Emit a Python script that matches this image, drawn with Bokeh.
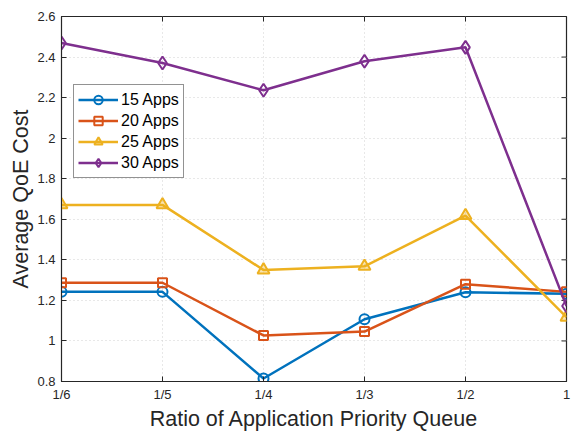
from math import pi
from bokeh.plotting import figure
from bokeh.models import Range1d, FixedTicker, Legend, LegendItem
from bokeh.embed import file_html
from bokeh.resources import INLINE

# ---- data ----
x_labels = ["1/6", "1/5", "1/4", "1/3", "1/2", "1"]
x_pos = [0, 1, 2, 3, 4, 5]
apps15 = [1.242, 1.242, 0.815, 1.107, 1.240, 1.233]
apps20 = [1.287, 1.287, 1.027, 1.046, 1.280, 1.242]
apps25 = [1.671, 1.671, 1.350, 1.368, 1.618, 1.117]
apps30 = [2.469, 2.371, 2.236, 2.379, 2.448, 1.172]
series_names = ["15 Apps", "20 Apps", "25 Apps", "30 Apps"]
y_ticks = [0.8, 1.0, 1.2, 1.4, 1.6, 1.8, 2.0, 2.2, 2.4, 2.6]
y_tick_labels = ["0.8", "1", "1.2", "1.4", "1.6", "1.8", "2", "2.2", "2.4", "2.6"]
y_min, y_max = 0.8, 2.6
x_min, x_max = 0, 5

colors = ["#0072BD", "#D95319", "#EDB120", "#7E2F8E"]
FONT = "Liberation Sans"
AX = "#262626"

p = figure(width=571, height=433, output_backend="svg", toolbar_location=None,
           x_range=Range1d(x_min, x_max), y_range=Range1d(y_min, y_max),
           min_border_left=61, min_border_right=5, min_border_top=16, min_border_bottom=0)
p.background_fill_color = "white"
p.border_fill_color = "white"
p.outline_line_color = AX
p.outline_line_width = 1.2

# axes
p.xaxis.ticker = FixedTicker(ticks=x_pos)
p.xaxis.major_label_overrides = {i: s for i, s in zip(x_pos, x_labels)}
p.yaxis.ticker = FixedTicker(ticks=y_ticks)
p.yaxis.major_label_overrides = {t: s for t, s in zip(y_ticks, y_tick_labels)}
for ax in (p.xaxis[0], p.yaxis[0]):
    ax.major_tick_in = 5
    ax.major_tick_out = 0
    ax.minor_tick_in = 0
    ax.minor_tick_out = 0
    ax.axis_line_color = AX
    ax.major_tick_line_color = AX
    ax.major_label_text_font = FONT
    ax.major_label_text_font_size = "13px"
    ax.major_label_text_color = AX
    ax.axis_label_text_font = FONT
    ax.axis_label_text_font_size = "21.5px"
    ax.axis_label_text_font_style = "normal"
    ax.axis_label_text_color = AX
p.xaxis.axis_label = "Ratio of Application Priority Queue"
p.yaxis.axis_label = "Average QoE Cost"
p.xaxis.major_label_standoff = 5
p.yaxis.major_label_standoff = 6
p.xaxis.axis_label_standoff = 2
p.yaxis.axis_label_standoff = 1

# inside ticks on the top and right edges of the box
p.ray(x=x_pos, y=[y_max] * len(x_pos), length=5, length_units="screen",
      angle=-pi / 2, line_color=AX, line_width=1)
p.ray(x=[x_max] * len(y_ticks), y=y_ticks, length=5, length_units="screen",
      angle=pi, line_color=AX, line_width=1)

# grid
p.xgrid.ticker = FixedTicker(ticks=x_pos)
p.ygrid.ticker = FixedTicker(ticks=y_ticks)
for g in (p.xgrid[0], p.ygrid[0]):
    g.grid_line_color = "#d0d0d0"
    g.grid_line_dash = "1 3"
    g.grid_line_width = 1

items = []
data = [apps15, apps20, apps25, apps30]
markers = ["circle", "square", "triangle", "diamond"]
sizes = [10, 9, 12, 13]
for name, ys, c, m, s in zip(series_names, data, colors, markers, sizes):
    r1 = p.line(x_pos, ys, line_color=c, line_width=2.5)
    r2 = p.scatter(x_pos, ys, marker=m, size=s, line_color=c, line_width=2,
                   fill_color=c, fill_alpha=0.0 if m != "triangle" else 0.35)
    items.append(LegendItem(label=name, renderers=[r1, r2]))

legend = Legend(items=items, location=(12, 203))
legend.label_text_font = FONT
legend.label_text_font_size = "16px"
legend.label_text_color = "#000000"
legend.border_line_color = AX
legend.border_line_width = 1.2
legend.background_fill_color = "white"
legend.background_fill_alpha = 1
legend.glyph_width = 40
legend.glyph_height = 21
legend.label_height = 21
legend.label_standoff = 3
legend.spacing = 0
legend.padding = 4
legend.margin = 0
p.add_layout(legend, "center")

open("out.html", "w").write(file_html(p, INLINE))
